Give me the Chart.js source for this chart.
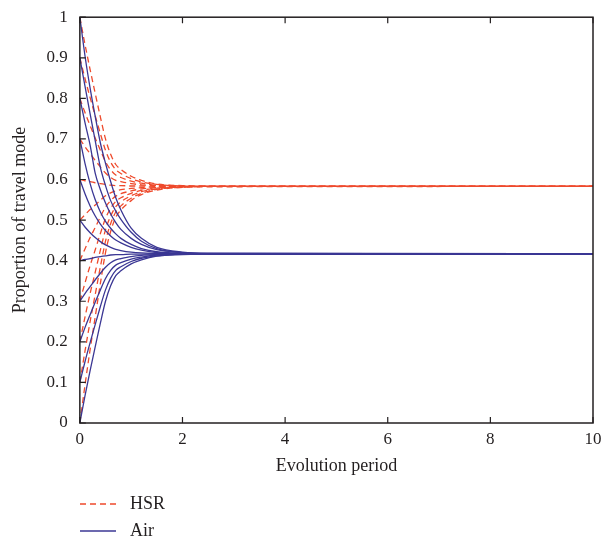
<!DOCTYPE html>
<html>
<head>
<meta charset="utf-8">
<script src="https://cdn.jsdelivr.net/npm/chart.js@4.4.1/dist/chart.umd.min.js"></script>
<style>
    html, body { margin: 0; padding: 0; background: #fff; overflow: hidden; }
    #wrap { position: relative; width: 616px; height: 541px; overflow: hidden; }
    #evoChart { position: absolute; left: 0; top: -5px; }
    #legend { position: absolute; left: 80px; top: 490px; font-family: "Liberation Serif", serif; font-size: 18px; color: #231f20; }
    #legend div { display: flex; align-items: center; height: 27px; }
    #legend svg { margin-right: 14px; }
</style>
</head>
<body>
<div id="wrap">
    <canvas id="evoChart" width="616" height="546"></canvas>
    <div id="legend">
        <div><svg width="36" height="4"><line x1="0" y1="2" x2="36" y2="2" stroke="#ee4a2c" stroke-width="1.3" stroke-dasharray="6,4"/></svg>HSR</div>
        <div><svg width="36" height="4"><line x1="0" y1="2" x2="36" y2="2" stroke="#3b3794" stroke-width="1.3"/></svg>Air</div>
    </div>
</div>
<script>
// evolution periods where the curves were read
const periods = [0, 0.1, 0.2, 0.3, 0.4, 0.5, 0.6, 0.7, 0.8, 1.0, 1.2, 1.5, 2, 2.5, 10];

// HSR proportion, one curve per starting share
const hsr00 = [0, 0.093, 0.181, 0.262, 0.344, 0.420, 0.472, 0.507, 0.525, 0.548, 0.563, 0.574, 0.581, 0.582, 0.583];
const hsr01 = [0.1, 0.177, 0.250, 0.317, 0.385, 0.448, 0.491, 0.520, 0.535, 0.554, 0.566, 0.576, 0.581, 0.583, 0.583];
const hsr02 = [0.2, 0.261, 0.319, 0.372, 0.426, 0.476, 0.510, 0.533, 0.545, 0.560, 0.570, 0.577, 0.582, 0.583, 0.583];
const hsr03 = [0.3, 0.345, 0.388, 0.427, 0.467, 0.504, 0.529, 0.546, 0.555, 0.566, 0.573, 0.579, 0.582, 0.583, 0.583];
const hsr04 = [0.4, 0.429, 0.457, 0.482, 0.508, 0.532, 0.548, 0.559, 0.565, 0.572, 0.577, 0.580, 0.582, 0.583, 0.583];
const hsr05 = [0.5, 0.513, 0.526, 0.537, 0.549, 0.560, 0.567, 0.572, 0.575, 0.578, 0.580, 0.582, 0.583, 0.583, 0.583];
const hsr06 = [0.6, 0.597, 0.595, 0.592, 0.590, 0.588, 0.586, 0.585, 0.585, 0.584, 0.584, 0.583, 0.583, 0.583, 0.583];
const hsr07 = [0.7, 0.681, 0.664, 0.647, 0.631, 0.616, 0.605, 0.598, 0.595, 0.590, 0.587, 0.585, 0.583, 0.583, 0.583];
const hsr08 = [0.8, 0.765, 0.733, 0.702, 0.672, 0.644, 0.624, 0.611, 0.605, 0.596, 0.591, 0.586, 0.584, 0.583, 0.583];
const hsr09 = [0.9, 0.849, 0.802, 0.757, 0.713, 0.672, 0.643, 0.624, 0.615, 0.602, 0.594, 0.588, 0.584, 0.583, 0.583];
const hsr10 = [1.0, 0.933, 0.871, 0.812, 0.754, 0.700, 0.662, 0.637, 0.625, 0.608, 0.598, 0.589, 0.585, 0.583, 0.583];

// Air proportion
const air00 = [0, 0.067, 0.129, 0.188, 0.246, 0.300, 0.338, 0.363, 0.375, 0.392, 0.402, 0.411, 0.415, 0.417, 0.417];
const air01 = [0.1, 0.151, 0.198, 0.243, 0.287, 0.328, 0.357, 0.376, 0.385, 0.398, 0.406, 0.412, 0.416, 0.417, 0.417];
const air02 = [0.2, 0.235, 0.267, 0.298, 0.328, 0.356, 0.376, 0.389, 0.395, 0.404, 0.409, 0.414, 0.416, 0.417, 0.417];
const air03 = [0.3, 0.319, 0.336, 0.353, 0.369, 0.384, 0.395, 0.402, 0.405, 0.410, 0.413, 0.415, 0.417, 0.417, 0.417];
const air04 = [0.4, 0.403, 0.405, 0.408, 0.410, 0.412, 0.414, 0.415, 0.415, 0.416, 0.416, 0.417, 0.417, 0.417, 0.417];
const air05 = [0.5, 0.483, 0.469, 0.457, 0.447, 0.439, 0.433, 0.428, 0.425, 0.421, 0.419, 0.418, 0.417, 0.417, 0.417];
const air06 = [0.6, 0.565, 0.535, 0.510, 0.490, 0.474, 0.461, 0.451, 0.444, 0.433, 0.426, 0.420, 0.418, 0.417, 0.417];
const air07 = [0.7, 0.640, 0.590, 0.550, 0.520, 0.497, 0.480, 0.466, 0.455, 0.440, 0.430, 0.422, 0.418, 0.417, 0.417];
const air08 = [0.8, 0.740, 0.685, 0.615, 0.575, 0.542, 0.515, 0.494, 0.477, 0.455, 0.440, 0.427, 0.420, 0.418, 0.417];
const air09 = [0.9, 0.830, 0.762, 0.695, 0.630, 0.585, 0.548, 0.522, 0.502, 0.470, 0.448, 0.430, 0.420, 0.418, 0.417];
const air10 = [1.0, 0.905, 0.825, 0.755, 0.690, 0.640, 0.595, 0.555, 0.525, 0.480, 0.455, 0.433, 0.421, 0.418, 0.417];

const hsrSeries = [hsr00, hsr01, hsr02, hsr03, hsr04, hsr05, hsr06, hsr07, hsr08, hsr09, hsr10];
const airSeries = [air00, air01, air02, air03, air04, air05, air06, air07, air08, air09, air10];

const xTicks = [0, 2, 4, 6, 8, 10];

const hsrColor = '#ee4a2c';
const airColor = '#3b3794';
const fontFamily = '"Liberation Serif", "Times New Roman", serif';

function toPoints(values) {
    return values.map((v, i) => ({ x: periods[i], y: v }));
}

const datasets = [];
airSeries.forEach((s) => {
    datasets.push({
        label: 'Air',
        data: toPoints(s),
        borderColor: airColor,
        borderWidth: 1.3,
        pointRadius: 0,
        cubicInterpolationMode: 'monotone',
        fill: false
    });
});
hsrSeries.forEach((s) => {
    datasets.push({
        label: 'HSR',
        data: toPoints(s),
        borderColor: hsrColor,
        borderWidth: 1.3,
        borderDash: [6, 4],
        pointRadius: 0,
        cubicInterpolationMode: 'monotone',
        fill: false
    });
});

// box round the plot and inward tick marks
const frameTicks = {
    id: 'frameTicks',
    afterDraw(chart) {
        const { ctx, chartArea: a, scales } = chart;
        ctx.save();
        ctx.strokeStyle = '#231f20';
        ctx.lineWidth = 1.5;
        ctx.strokeRect(a.left, a.top, a.right - a.left, a.bottom - a.top);
        ctx.lineWidth = 1.2;
        ctx.beginPath();
        xTicks.forEach((v) => {
            const px = scales.x.getPixelForValue(v);
            ctx.moveTo(px, a.bottom);
            ctx.lineTo(px, a.bottom - 6);
            ctx.moveTo(px, a.top);
            ctx.lineTo(px, a.top + 6);
        });
        scales.y.ticks.forEach((t) => {
            const py = scales.y.getPixelForValue(t.value);
            ctx.moveTo(a.left, py);
            ctx.lineTo(a.left + 6, py);
        });
        ctx.stroke();
        ctx.restore();
    }
};

const ctx = document.getElementById('evoChart').getContext('2d');
new Chart(ctx, {
    type: 'line',
    data: { datasets: datasets },
    options: {
        responsive: false,
        animation: false,
        layout: { padding: { left: 5, right: 23, top: 2, bottom: 64 } },
        scales: {
            x: {
                type: 'linear',
                min: 0,
                max: 10,
                afterBuildTicks: (axis) => { axis.ticks = xTicks.map(v => ({ value: v })); },
                grid: { display: false, drawTicks: false, tickLength: 0 },
                border: { display: false },
                ticks: { color: '#231f20', padding: 6, font: { family: fontFamily, size: 17 }, maxRotation: 0 },
                title: { display: true, text: 'Evolution period', color: '#231f20', padding: { top: 0, bottom: 0 }, font: { family: fontFamily, size: 18 } }
            },
            y: {
                type: 'linear',
                min: 0,
                max: 1,
                ticks: {
                    stepSize: 0.1,
                    color: '#231f20',
                    padding: 12,
                    font: { family: fontFamily, size: 17 },
                    callback: (v) => String(Math.round(v * 10) / 10)
                },
                grid: { display: false, drawTicks: false, tickLength: 0 },
                border: { display: false },
                title: { display: true, text: 'Proportion of travel mode', color: '#231f20', padding: { bottom: 4 }, font: { family: fontFamily, size: 18 } }
            }
        },
        plugins: {
            legend: { display: false },
            tooltip: { enabled: false }
        }
    },
    plugins: [frameTicks]
});
</script>
</body>
</html>
